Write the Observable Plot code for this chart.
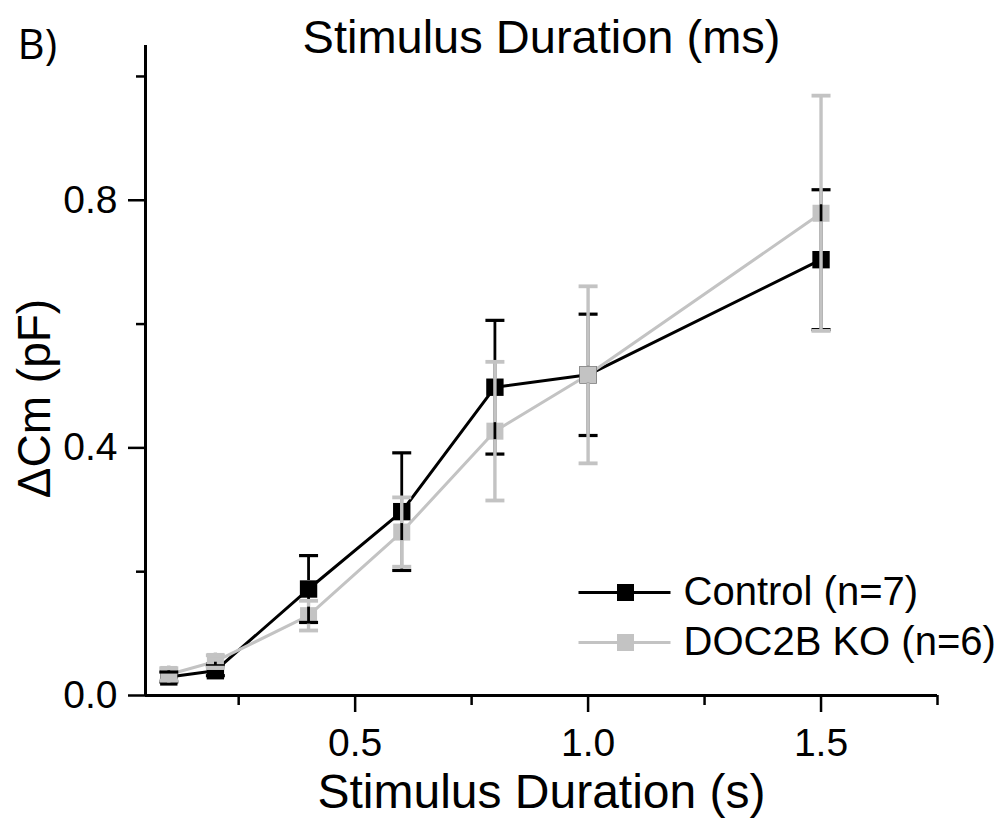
<!DOCTYPE html>
<html><head><meta charset="utf-8">
<script src="https://cdn.jsdelivr.net/npm/d3@7"></script>
<script src="https://cdn.jsdelivr.net/npm/@observablehq/plot@0.6"></script>
<style>html,body{margin:0;padding:0;background:#fff}</style>
</head><body><div id="chart"></div>
<script>
const durations = [0.1, 0.2, 0.4, 0.6, 0.8, 1.0, 1.5];
const controlMean = [0.030, 0.040, 0.172, 0.297, 0.498, 0.518, 0.704];
const controlErr  = [0.008, 0.008, 0.054, 0.095, 0.108, 0.098, 0.113];
const koMean = [0.034, 0.055, 0.129, 0.264, 0.427, 0.518, 0.779];
const koErr  = [0.010, 0.010, 0.024, 0.056, 0.112, 0.143, 0.190];
const seriesNames = ["Control (n=7)", "DOC2B KO (n=6)"];
const seriesColors = ["#000000", "#c3c3c3"];
const yTicksMajor = [0, 0.4, 0.8];
const yTicksMinor = [0.2, 0.6, 1.0];
const xTicksMajor = [0.5, 1.0, 1.5];
const xTicksMinor = [0.25, 0.75, 1.25, 1.75];
const titleText = "Stimulus Duration (ms)";
const xLabel = "Stimulus Duration (s)";
const yLabel = "ΔCm (pF)";
const panelLabel = "B)";

const series = [
  durations.map((d, i) => ({x: d, y: controlMean[i], e: controlErr[i]})),
  durations.map((d, i) => ({x: d, y: koMean[i], e: koErr[i]}))
];

const capSymbol = {draw(ctx) { ctx.moveTo(-9.5, 0); ctx.lineTo(9.5, 0); }};
const legendLine = {draw(ctx) { ctx.moveTo(-46, 0); ctx.lineTo(46, 0); }};
const half = 8.5;
const fmt = d3.format(".1f");

const marks = [];
// axes lines
marks.push(Plot.ruleY([0], {stroke: "black", strokeWidth: 3}));
marks.push(Plot.ruleX([0.05], {stroke: "black", strokeWidth: 3}));
marks.push(Plot.axisX({ticks: xTicksMajor, tickSize: 17, tickPadding: 16, fontSize: 39, strokeWidth: 2.5, tickFormat: fmt, label: null}));
marks.push(Plot.axisX({ticks: xTicksMinor, tickSize: 10, strokeWidth: 2.5, tickFormat: () => "", label: null}));
marks.push(Plot.axisY({ticks: yTicksMajor, tickSize: 17, tickPadding: 11, fontSize: 39, strokeWidth: 2.5, tickFormat: fmt, label: null}));
marks.push(Plot.axisY({ticks: yTicksMinor, tickSize: 9, strokeWidth: 2.5, tickFormat: () => "", label: null}));

// lines
marks.push(Plot.line(series[0], {x: "x", y: "y", stroke: seriesColors[0], strokeWidth: 3}));
marks.push(Plot.line(series[1], {x: "x", y: "y", stroke: seriesColors[1], strokeWidth: 3}));
// markers
marks.push(Plot.dot(series[0], {x: "x", y: "y", symbol: "square", r: 9.8, fill: seriesColors[0]}));
marks.push(Plot.dot(series[1], {x: "x", y: "y", symbol: "square", r: 9.6, fill: seriesColors[1]}));
// error bars (black first, gray on top), with a gap over each series' own marker
const ebWidth = [2.8, 3.4];
[0, 1].forEach(s => {
  const data = series[s];
  const col = seriesColors[s];
  marks.push(Plot.ruleX(data, {x: "x", y1: d => d.y + d.e, y2: "y", insetBottom: half, stroke: col, strokeWidth: ebWidth[s]}));
  marks.push(Plot.ruleX(data, {x: "x", y1: "y", y2: d => d.y - d.e, insetTop: half, stroke: col, strokeWidth: ebWidth[s]}));
  marks.push(Plot.dot(data, {x: "x", y: d => d.y + d.e, symbol: capSymbol, fill: "none", stroke: col, strokeWidth: ebWidth[s] + 0.4}));
  marks.push(Plot.dot(data, {x: "x", y: d => d.y - d.e, symbol: capSymbol, fill: "none", stroke: col, strokeWidth: ebWidth[s] + 0.4}));
});

// legend
const legendDy = [-103, -53];
seriesNames.forEach((name, i) => {
  marks.push(Plot.dot([name], {frameAnchor: "bottom-right", dx: -313, dy: legendDy[i], symbol: legendLine, fill: "none", stroke: seriesColors[i], strokeWidth: 3}));
  marks.push(Plot.dot([name], {frameAnchor: "bottom-right", dx: -312, dy: legendDy[i], symbol: "square", r: 9.6, fill: seriesColors[i]}));
  marks.push(Plot.text([name], {text: d => d, frameAnchor: "bottom-right", dx: -254, dy: legendDy[i], textAnchor: "start", lineAnchor: "middle", fontSize: 40, fill: "black"}));
});

// titles
marks.push(Plot.text([titleText], {text: d => d, frameAnchor: "top", dy: -8, fontSize: 47, lineAnchor: "middle", fill: "black"}));
marks.push(Plot.text([xLabel], {text: d => d, frameAnchor: "bottom", dy: 97, fontSize: 48, lineAnchor: "middle", fill: "black"}));
marks.push(Plot.text([yLabel], {text: d => d, frameAnchor: "left", dx: -110, dy: 28, rotate: -90, textAnchor: "middle", fontSize: 46, lineAnchor: "middle", fill: "black"}));
marks.push(Plot.text([panelLabel], {text: d => d, frameAnchor: "top-left", dx: -128, dy: 0, textAnchor: "start", lineAnchor: "middle", fontSize: 42, fontFamily: "Open Sans", fill: "black"}));

const chart = Plot.plot({
  width: 1002, height: 822,
  marginTop: 45, marginBottom: 127, marginLeft: 145, marginRight: 65,
  x: {domain: [0.05, 1.75]},
  y: {domain: [0, 1.05]},
  style: {fontFamily: "'Liberation Sans', Arial, sans-serif", background: "white", color: "black", overflow: "visible"},
  marks
});
document.getElementById("chart").appendChild(chart);
</script>
</body></html>
